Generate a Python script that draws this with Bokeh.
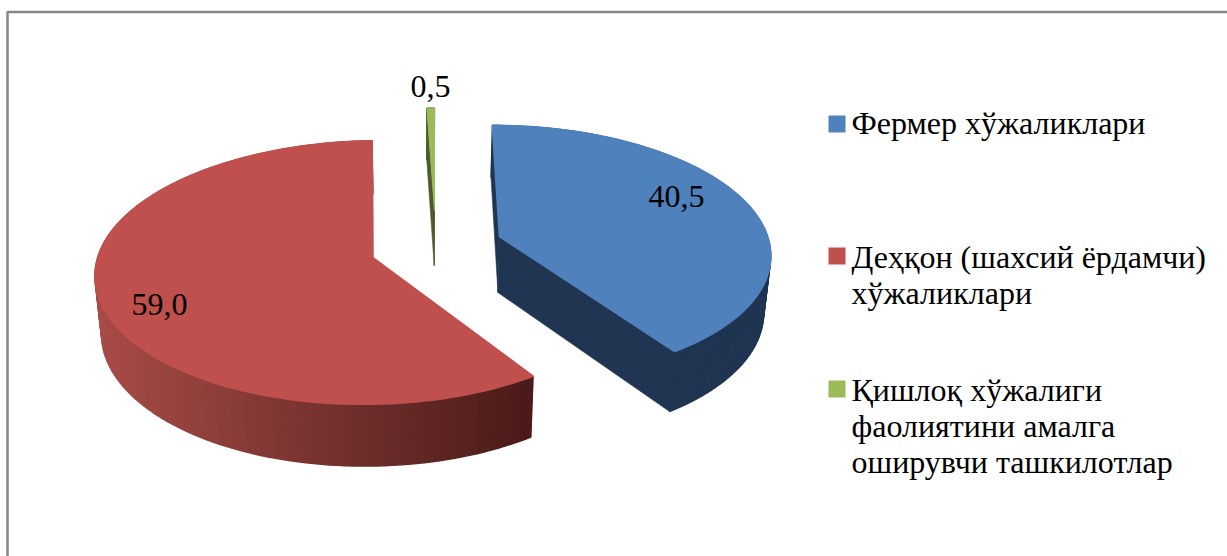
import numpy as np
from bokeh.plotting import figure
from bokeh.models import Range1d
from bokeh.core.properties import value
from bokeh.embed import file_html
from bokeh.resources import INLINE

# ---- data ----
categories = ["Фермер хўжаликлари", "Деҳқон (шахсий ёрдамчи)\nхўжаликлари",
              "Қишлоқ хўжалиги\nфаолиятини амалга\nоширувчи ташкилотлар"]
values = [40.5, 59.0, 0.5]
value_labels = ["40,5", "59,0", "0,5"]

# ---- style / layout ----
FONT = value("Liberation Serif")
TOP = ["#4f81bd", "#c0504d", "#9bbb59"]
WALL_FLAT = ["#1f3552", None, "#4a5c2a"]
RADIAL = ["#1f3552", "#a84643", "#4a5c2a"]
RED_L, RED_R = np.array([0xa8, 0x4c, 0x48]), np.array([0x4a, 0x1b, 0x19])

# apex x, apex y, a (half width), c (shear), b (half height), k (perspective), m (asymmetry)
VIEW = [
    (499, 236, 268, -7.9, 124.8, 0.124, 0.0),
    (372, 257, 272, 8.0, 130.0, 0.114, -0.01),
    (434, 210, 272, 0.0, 115.0, 0.124, 0.0),
]
LABEL_POS = [(676, 196), (159, 304), (430, 86)]
LEGEND_SW = [123.5, 255.5, 388.5]
LEGEND_BASE = [122, 256, 389]
LINE_H = 36


def project(view, theta):
    ax, ay, a, c, b, k, m = view
    u, v = np.sin(theta), np.cos(theta)
    s = 1 / (1 + k * v)
    return ax + (a * u * (1 + m * u) + c * v) * s, ay - b * v * s


def drop(x, y):
    return 420 + (x - 420) * 0.98, y + 56 + (y - 235) * 0.035


p = figure(width=1227, height=556, output_backend="svg", toolbar_location=None,
           x_range=Range1d(0, 1227), y_range=Range1d(556, 0),
           x_axis_type=None, y_axis_type=None, min_border=0, outline_line_color=None)
p.styles = {"position": "absolute", "left": "0px", "top": "0px"}
p.grid.visible = False
p.background_fill_color = "white"

# frame
p.line([7, 7, 1227], [556, 11.5, 11.5], line_color="#868686", line_width=2.5)

shares = np.array(values) / sum(values)
edges = np.concatenate([[0], np.cumsum(shares)]) * 2 * np.pi

for i in [2, 0, 1]:
    t = np.linspace(edges[i], edges[i + 1], max(6, int(shares[i] * 240)))
    view = VIEW[i]
    x, y = project(view, t)
    xb, yb = drop(x, y)
    ax, ay = view[0], view[1]
    axb, ayb = drop(float(ax), float(ay))
    flat = WALL_FLAT[i]
    # radial walls
    xs = [[ax, x[j], xb[j], axb] for j in (0, -1)]
    ys = [[ay, y[j], yb[j], ayb] for j in (0, -1)]
    p.patches(xs, ys, fill_color=RADIAL[i], line_color=RADIAL[i], line_width=0.6)
    # outer wall
    xs, ys, cols = [], [], []
    for j in range(len(t) - 1):
        xs.append([x[j], x[j + 1], xb[j + 1], xb[j]])
        ys.append([y[j], y[j + 1], yb[j + 1], yb[j]])
        if flat:
            cols.append(flat)
        else:
            f = np.clip((x[j] - 95) / (535 - 95), 0, 1)
            c = RED_L + (RED_R - RED_L) * f
            cols.append("#%02x%02x%02x" % tuple(int(q) for q in c))
    p.patches(xs, ys, fill_color=cols, line_color=cols, line_width=1.4)
    p.patch(np.concatenate([[ax], x]), np.concatenate([[ay], y]), fill_color=TOP[i], line_color=TOP[i],
            line_width=1.0 if i == 2 else 1.8)

# data labels
p.text([q[0] for q in LABEL_POS], [q[1] for q in LABEL_POS], text=value_labels,
       text_font=FONT, text_font_size="32px", text_color="black",
       text_align="center", text_baseline="alphabetic")

# legend
p.rect([836.5] * 3, LEGEND_SW, width=17, height=17, fill_color=TOP, line_color=None)
lx, ly, lt = [], [], []
for cat, b in zip(categories, LEGEND_BASE):
    for n, line in enumerate(cat.split("\n")):
        lx.append(851)
        ly.append(b + n * LINE_H)
        lt.append(line)
p.text(lx, ly, text=lt, text_font=FONT, text_font_size="32px", text_color="black",
       text_align="left", text_baseline="alphabetic")

open("out.html", "w").write(file_html(p, INLINE))
